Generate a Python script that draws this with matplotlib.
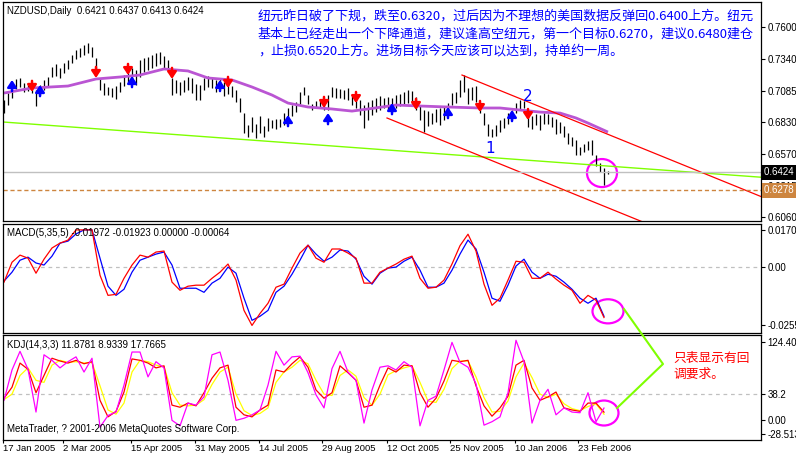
import numpy as np
import matplotlib.pyplot as plt
from matplotlib.patches import Ellipse
from matplotlib.lines import Line2D

plt.rcParams['font.family'] = ['Liberation Sans', 'DejaVu Sans']
CJK = ['Noto Sans CJK SC', 'DejaVu Sans']

W, H = 796, 454

# ---- price bars (NZDUSD daily, one entry per bar) ----
high = [0.7009, 0.7065, 0.7106, 0.7179, 0.7187, 0.7147, 0.7130, 0.7130, 0.7090, 0.7130,
        0.7171, 0.7195, 0.7276, 0.7300, 0.7268, 0.7309, 0.7333, 0.7373, 0.7414, 0.7430,
        0.7454, 0.7471, 0.7438, 0.7349, 0.7187, 0.7147, 0.7114, 0.7106, 0.7122, 0.7155,
        0.7211, 0.7252, 0.7268, 0.7252, 0.7333, 0.7349, 0.7357, 0.7373, 0.7389, 0.7398,
        0.7365, 0.7333, 0.7187, 0.7171, 0.7155, 0.7171, 0.7195, 0.7187, 0.7139, 0.7130,
        0.7187, 0.7203, 0.7187, 0.7171, 0.7179, 0.7155, 0.7171, 0.7122, 0.7090, 0.7025,
        0.6903, 0.6806, 0.6871, 0.6814, 0.6879, 0.6798, 0.6863, 0.6846, 0.6855, 0.6855,
        0.6903, 0.6944, 0.6968, 0.6992, 0.7074, 0.7114, 0.7049, 0.6976, 0.7001, 0.7009,
        0.7009, 0.7049, 0.7114, 0.7106, 0.7098, 0.7090, 0.7106, 0.7041, 0.7025, 0.7009,
        0.6968, 0.6992, 0.7009, 0.7025, 0.7041, 0.7025, 0.7033, 0.7025, 0.7049, 0.7057,
        0.7074, 0.7090, 0.7082, 0.7033, 0.6968, 0.6928, 0.6919, 0.6903, 0.6936, 0.6944,
        0.6960, 0.6984, 0.7065, 0.7074, 0.7171, 0.7211, 0.7106, 0.7114, 0.7122, 0.6984,
        0.6903, 0.6814, 0.6774, 0.6806, 0.6846, 0.6863, 0.6903, 0.6928, 0.6984, 0.7009,
        0.7001, 0.6928, 0.6879, 0.6895, 0.6887, 0.6903, 0.6895, 0.6871, 0.6855, 0.6830,
        0.6798, 0.6741, 0.6709, 0.6684, 0.6628, 0.6652, 0.6676, 0.6684, 0.6563, 0.6498,
        0.6458, 0.6437]
low = [0.6903, 0.6968, 0.7025, 0.7098, 0.7114, 0.7074, 0.7082, 0.7065, 0.6960, 0.7049,
       0.7090, 0.7122, 0.7195, 0.7203, 0.7187, 0.7228, 0.7260, 0.7309, 0.7341, 0.7357,
       0.7373, 0.7389, 0.7357, 0.7252, 0.7090, 0.7049, 0.7049, 0.7033, 0.7017, 0.7074,
       0.7122, 0.7155, 0.7147, 0.7130, 0.7195, 0.7236, 0.7252, 0.7268, 0.7284, 0.7300,
       0.7268, 0.7236, 0.7049, 0.7065, 0.7049, 0.7074, 0.7090, 0.7065, 0.7009, 0.7009,
       0.7090, 0.7114, 0.7106, 0.7074, 0.7090, 0.7041, 0.7057, 0.7033, 0.6992, 0.6911,
       0.6741, 0.6709, 0.6749, 0.6701, 0.6741, 0.6709, 0.6757, 0.6782, 0.6774, 0.6790,
       0.6806, 0.6846, 0.6879, 0.6911, 0.6976, 0.7049, 0.6976, 0.6928, 0.6944, 0.6944,
       0.6928, 0.6928, 0.7033, 0.7025, 0.7025, 0.7017, 0.7009, 0.6968, 0.6944, 0.6887,
       0.6782, 0.6846, 0.6887, 0.6911, 0.6928, 0.6944, 0.6928, 0.6911, 0.6944, 0.6960,
       0.6968, 0.6984, 0.6976, 0.6928, 0.6846, 0.6749, 0.6798, 0.6814, 0.6830, 0.6806,
       0.6846, 0.6879, 0.6968, 0.6984, 0.7033, 0.7074, 0.6976, 0.7009, 0.6992, 0.6903,
       0.6806, 0.6717, 0.6709, 0.6717, 0.6749, 0.6782, 0.6814, 0.6846, 0.6903, 0.6928,
       0.6944, 0.6790, 0.6774, 0.6806, 0.6765, 0.6814, 0.6814, 0.6790, 0.6733, 0.6741,
       0.6709, 0.6652, 0.6636, 0.6563, 0.6563, 0.6587, 0.6604, 0.6563, 0.6474, 0.6425,
       0.6320, 0.6413]

# moving average (purple)
ma_idx = [0, 7, 16, 23, 29, 34, 40, 46, 51, 57, 62, 67, 71, 76, 82, 87, 91, 98, 104,
          111, 119, 124, 134, 139, 143, 146, 151]
ma_val = [0.7065, 0.7106, 0.7122, 0.7179, 0.7195, 0.7211, 0.7260, 0.7244, 0.7187, 0.7171,
          0.7114, 0.7049, 0.6984, 0.6952, 0.6936, 0.6919, 0.6936, 0.6968, 0.6960, 0.6952,
          0.6944, 0.6944, 0.6911, 0.6903, 0.6863, 0.6822, 0.6749]

# signal arrows
up_idx = [2, 9, 32, 54, 71, 81, 97, 111, 127]
up_price = [0.7171, 0.7130, 0.7203, 0.7171, 0.6887, 0.6903, 0.6984, 0.6952, 0.6928]
down_idx = [7, 23, 31, 42, 56, 80, 88, 103, 119, 131]
down_price = [0.7074, 0.7187, 0.7211, 0.7179, 0.7106, 0.6944, 0.6984, 0.6928, 0.6911, 0.6846]

# trend lines (bar index, price)
green_line = [(0, 0.6830), (150, 0.6476)]
channel_top_idx = [114.5, 190]
channel_top_price = [0.7211, 0.6217]
channel_low_idx = [95.75, 160]
channel_low_price = [0.6863, 0.6017]

# wave labels
wave_idx = [121.5, 131]
wave_price = [0.6612, 0.7041]
wave_text = ["1", "2"]

last_price = 0.6424
target_price = 0.6278
price_ticks = [0.7600, 0.7340, 0.7085, 0.6830, 0.6570, 0.6315, 0.6060]

# ---- indicators, every second bar ----
macd_main = [-0.0058, 0.0020, 0.0048, 0.0036, -0.0023, 0.0032, 0.0076, 0.0095, 0.0107, 0.0147,
             0.0147, 0.0147, -0.0031, -0.0110, -0.0106, -0.0043, 0.0009, 0.0048, 0.0040, 0.0060,
             0.0064, -0.0058, -0.0090, -0.0074, -0.0070, -0.0070, -0.0043, -0.0019, 0.0013, -0.0050,
             -0.0169, -0.0228, -0.0181, -0.0141, -0.0078, -0.0066, -0.0003, 0.0056, 0.0087, 0.0036,
             0.0020, 0.0072, 0.0072, 0.0056, 0.0036, -0.0062, -0.0062, -0.0019, -0.0003, 0.0013,
             0.0032, 0.0044, -0.0043, -0.0082, -0.0078, -0.0050, 0.0013, 0.0085, 0.0130, 0.0064,
             -0.0066, -0.0149, -0.0121, -0.0050, 0.0024, 0.0020, -0.0043, -0.0043, -0.0019, -0.0046,
             -0.0070, -0.0090, -0.0141, -0.0110, -0.0129, -0.0197]
macd_signal = [-0.0054, -0.0019, 0.0028, 0.0040, 0.0017, 0.0009, 0.0044, 0.0095, 0.0103, 0.0131,
               0.0147, 0.0147, 0.0036, -0.0074, -0.0110, -0.0086, -0.0019, 0.0028, 0.0040, 0.0052,
               0.0060, 0.0009, -0.0082, -0.0082, -0.0082, -0.0098, -0.0062, -0.0043, 0.0001, -0.0023,
               -0.0121, -0.0208, -0.0192, -0.0169, -0.0098, -0.0074, -0.0027, 0.0028, 0.0087, 0.0052,
               0.0024, 0.0040, 0.0068, 0.0064, 0.0032, -0.0035, -0.0066, -0.0023, -0.0003, 0.0001,
               0.0024, 0.0040, -0.0011, -0.0078, -0.0078, -0.0062, -0.0011, 0.0052, 0.0107, 0.0072,
               -0.0019, -0.0121, -0.0133, -0.0070, 0.0005, 0.0032, -0.0019, -0.0043, -0.0027, -0.0035,
               -0.0058, -0.0086, -0.0121, -0.0141, -0.0121, -0.0192]

kdj_k = [32, 48, 83, 74, 40, 65, 90, 86, 83, 87,
         82, 85, 29, 5, 13, 41, 89, 87, 83, 76,
         79, 22, 19, 25, 21, 40, 61, 76, 80, 19,
         8, 5, 15, 22, 73, 70, 82, 92, 77, 44,
         32, 40, 79, 69, 58, 19, 22, 51, 76, 70,
         80, 79, 40, 19, 32, 57, 87, 85, 87, 50,
         21, 6, 18, 35, 80, 87, 47, 29, 34, 41,
         18, 15, 13, 25, 25, 11.88]
kdj_d = [30, 38, 65, 76, 58, 55, 80, 87, 84, 85,
         83, 84, 50, 15, 9, 25, 70, 87, 85, 80,
         78, 40, 22, 21, 22, 30, 52, 70, 77, 38,
         14, 7, 10, 18, 55, 70, 77, 87, 82, 58,
         38, 36, 65, 73, 64, 33, 22, 38, 66, 72,
         76, 79, 55, 28, 26, 45, 75, 86, 86, 63,
         33, 12, 13, 28, 63, 83, 62, 38, 33, 38,
         24, 17, 14, 20, 24, 8.93]
kdj_j = [29, 73, 100, 74, 12, 95, 87, 76, 85, 92,
         70, 90, -10, 7, 12, 51, 99, 99, 63, 85,
         76, 0, -8, 25, 22, 34, 95, 99, 58, 0,
         3, 8, 15, 51, 100, 80, 92, 93, 69, 37,
         18, 75, 100, 70, 58, -4, 44, 77, 79, 73,
         85, 77, -8, 29, 35, 73, 113, 84, 77, 53,
         -7, -2, 5, 40, 116, 85, -4, 29, 45, 8,
         18, 12, 11, 40, -2, 17.77]

date_pos = [-0.25, 14.75, 31.75, 47.75, 63.75, 79.5, 95.75, 111.5, 127.75, 143.5]
date_labels = ["17 Jan 2005", "2 Mar 2005", "15 Apr 2005", "31 May 2005", "14 Jul 2005",
               "29 Aug 2005", "12 Oct 2005", "25 Nov 2005", "10 Jan 2006", "23 Feb 2006"]

note_lines = ["纽元昨日破了下规，跌至0.6320，过后因为不理想的美国数据反弹回0.6400上方。纽元",
              "基本上已经走出一个下降通道，建议逢高空纽元，第一个目标0.6270，建议0.6480建仓",
              "，止损0.6520上方。进场目标今天应该可以达到，持单约一周。"]
kdj_note = "只表显示有回\n调要求。"


def fy(py):
    return 1 - py / H


fig = plt.figure(figsize=(W / 100, H / 100), dpi=100)
left, right = 2.5, 761
ax1 = fig.add_axes([left / W, fy(221), (right - left) / W, (221 - 1.5) / H])
ax2 = fig.add_axes([left / W, fy(332.5), (right - left) / W, (332.5 - 224) / H])
ax3 = fig.add_axes([left / W, fy(440), (right - left) / W, (440 - 334.5) / H])

bars = np.arange(len(high))
ind_x = np.arange(0, len(high), 2)

for ax in (ax1, ax2, ax3):
    ax.set_xlim(-0.375, 189.25)
    ax.yaxis.tick_right()
    ax.tick_params(axis='y', length=3, width=0.8, pad=1.5, labelsize=7)
    for s in ax.spines.values():
        s.set_linewidth(0.9)
    ax.set_facecolor('white')

# ---- main chart ----
ax1.set_ylim(0.60287, 0.78066)
ax1.vlines(bars, low, high, color='black', lw=0.9)
ax1.plot(ma_idx, ma_val, color='#BA55D3', lw=2, solid_capstyle='butt')
ax1.axline(green_line[0], green_line[1], color='#7FFF00', lw=1)
ax1.plot(channel_top_idx, channel_top_price, color='red', lw=0.9)
ax1.plot(channel_low_idx, channel_low_price, color='red', lw=0.9)
ax1.axhline(last_price, color='#C0C0C0', lw=1)
ax1.axhline(target_price, color='#CD853F', lw=1, ls=(0, (3, 2)))

for i, p in zip(up_idx, up_price):
    ax1.annotate('', xy=(i, p), xytext=(0, -8), textcoords='offset points',
                 arrowprops=dict(arrowstyle='-|>,head_width=0.3,head_length=0.45',
                                 color='blue', lw=1.8, shrinkA=0, shrinkB=0, mutation_scale=9))
for i, p in zip(down_idx, down_price):
    ax1.annotate('', xy=(i, p), xytext=(0, 8), textcoords='offset points',
                 arrowprops=dict(arrowstyle='-|>,head_width=0.3,head_length=0.45',
                                 color='red', lw=1.8, shrinkA=0, shrinkB=0, mutation_scale=9))

for i, p, t in zip(wave_idx, wave_price, wave_text):
    ax1.text(i, p, t, color='blue', fontsize=11, ha='center', va='center',
             family='DejaVu Sans')
ax1.add_patch(Ellipse((149.5, 0.6417), 7.5, 0.0227, fill=False, ec='#FF00FF', lw=1.6))

ax1.set_xticks([])
ax1.set_yticks(price_ticks)
ax1.set_yticklabels([f"{v:.4f}" for v in price_ticks])
ytr = ax1.get_yaxis_transform()
ax1.text(1.0045, last_price, "0.6424 ", transform=ytr, color='white', fontsize=7,
         va='center', ha='left', clip_on=False,
         bbox=dict(boxstyle='square,pad=0.25', fc='black', ec='none'))
ax1.text(1.0045, target_price, "0.6278 ", transform=ytr, color='white', fontsize=7,
         va='center', ha='left', clip_on=False,
         bbox=dict(boxstyle='square,pad=0.25', fc='#CD853F', ec='none'))

# ---- MACD ----
ax2.set_ylim(-0.02557, 0.01701)
ax2.axhline(0, color='#C0C0C0', lw=0.9, ls=(0, (3, 3)))
ax2.plot(ind_x, macd_signal, color='blue', lw=0.9)
ax2.plot(ind_x, macd_main, color='red', lw=0.9)
ax2.add_patch(Ellipse((151, -0.01726), 7.75, 0.00946, fill=False, ec='#FF00FF', lw=1.6))
ax2.set_xticks([])
ax2.set_yticks([0.01466, 0, -0.02263])
ax2.set_yticklabels(["0.01701", "0.00", "-0.02557"])

# ---- KDJ ----
ax3.set_ylim(-28.513, 124.402)
ax3.axhline(38.2, color='#C0C0C0', lw=0.9, ls=(0, (3, 3)))
ax3.plot(ind_x, kdj_d, color='#FFFF00', lw=0.9)
ax3.plot(ind_x, kdj_k, color='red', lw=0.9)
ax3.plot(ind_x, kdj_j, color='#FF00FF', lw=0.9)
ax3.add_patch(Ellipse((150, 10.6), 7.25, 36.2, fill=False, ec='#FF00FF', lw=1.6))
ax3.set_yticks([113.5, 38.2, 0, -19.8])
ax3.set_yticklabels(["124.402", "38.2", "0.00", "-28.513"])
ax3.set_xticks(date_pos)
ax3.set_xticklabels(date_labels, ha='left')
ax3.tick_params(axis='x', length=2, width=0.8, pad=1, labelsize=6.8)

# ---- texts ----
fig.text(7 / W, fy(11), "NZDUSD,Daily  0.6421 0.6437 0.6413 0.6424", fontsize=7, va='center')
fig.text(7 / W, fy(233), "MACD(5,35,5) -0.01972 -0.01923 0.00000 -0.00064", fontsize=7,
         va='center')
fig.text(7 / W, fy(345), "KDJ(14,3,3) 11.8781 8.9339 17.7665", fontsize=7, va='center')
fig.text(7 / W, fy(429), "MetaTrader, ? 2001-2006 MetaQuotes Software Corp.", fontsize=7,
         va='center')

for n, line in enumerate(note_lines):
    fig.text(258 / W, fy(16.5 + 17.5 * n), line, color='#0000FF', fontsize=9.4,
             family=CJK, va='center')
fig.text(673 / W, fy(366), kdj_note, color='red', fontsize=9.2, family=CJK, va='center',
         linespacing=1.3)

fig.add_artist(Line2D([624 / W, 663 / W, 617 / W], [fy(309), fy(364), fy(408)],
                      color='#7FFF00', lw=1.5))

fig.savefig("out.png", dpi=100)
